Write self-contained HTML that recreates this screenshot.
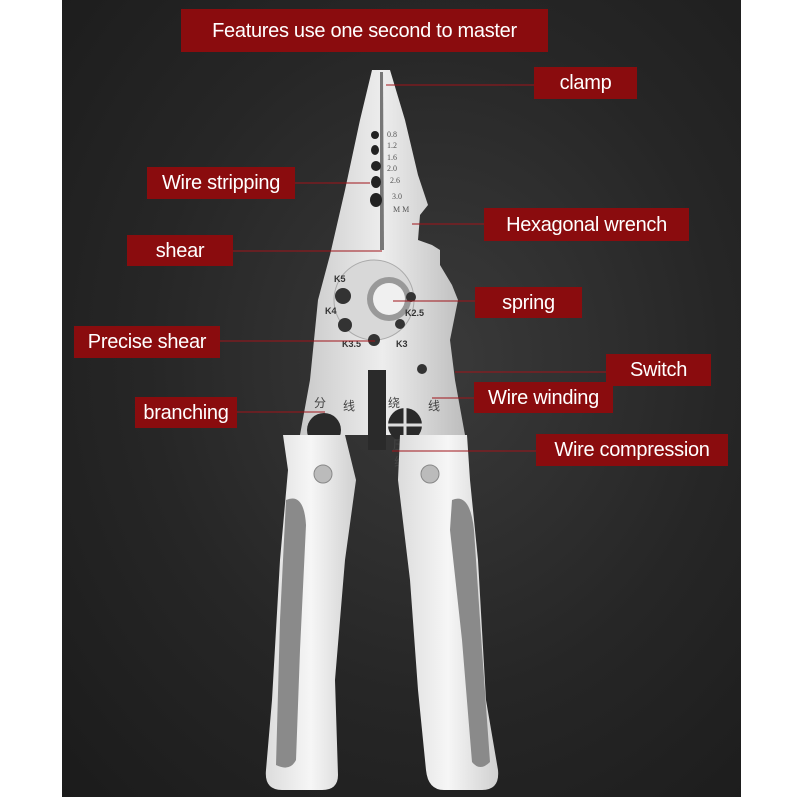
<!DOCTYPE html>
<html><head><meta charset="utf-8"><style>
body{margin:0;background:#fff;}
#c{position:relative;width:800px;height:800px;overflow:hidden;background:#fff;}
.bg{position:absolute;left:62px;top:0;width:679px;height:797px;background:radial-gradient(ellipse at 55% 45%,#3a3a3a 0%,#262626 55%,#1b1b1b 100%);}
.l{position:absolute;background:#8a0c0e;color:#fff;font-family:"Liberation Sans",sans-serif;font-size:20px;line-height:1;display:flex;align-items:center;justify-content:center;white-space:nowrap;letter-spacing:-0.3px;}
svg{position:absolute;left:0;top:0;}
</style></head><body><div id="c">
<div class="bg"></div>
<svg width="800" height="800" viewBox="0 0 800 800">
<defs>
<linearGradient id="m" x1="0" x2="1"><stop offset="0" stop-color="#c9c9c9"/><stop offset=".5" stop-color="#ededed"/><stop offset="1" stop-color="#bdbdbd"/></linearGradient>
<linearGradient id="h" x1="0" x2="1"><stop offset="0" stop-color="#dcdcdc"/><stop offset=".5" stop-color="#f6f6f6"/><stop offset="1" stop-color="#d0d0d0"/></linearGradient>
</defs>
<path d="M372 70 L390 70 L405 120 L418 175 L428 205 L420 215 L418 240 L432 245 L440 250 L440 265 L452 285 L458 300 L450 340 L455 380 L465 435 L300 435 L310 380 L318 300 L330 255 L345 190 L360 120 Z" fill="url(#m)"/>
<path d="M380 72 L383 72 L384 250 L380 250 Z" fill="#777"/>
<g fill="#222"><ellipse cx="375" cy="135" rx="4" ry="4"/><ellipse cx="375" cy="150" rx="4" ry="5"/><ellipse cx="376" cy="166" rx="5" ry="5"/><ellipse cx="376" cy="182" rx="5" ry="6"/><ellipse cx="376" cy="200" rx="6" ry="7"/></g>
<g font-family="Liberation Serif,serif" font-size="8" fill="#555"><text x="387" y="137">0.8</text><text x="387" y="148">1.2</text><text x="387" y="160">1.6</text><text x="387" y="171">2.0</text><text x="390" y="183">2.6</text><text x="392" y="199">3.0</text><text x="393" y="212">M M</text></g>
<circle cx="374" cy="300" r="40" fill="#d8d8d8" stroke="#aaa"/>
<circle cx="389" cy="299" r="22" fill="#999"/><circle cx="389" cy="299" r="16" fill="#f0f0f0"/>
<g fill="#333"><circle cx="343" cy="296" r="8"/><circle cx="345" cy="325" r="7"/><circle cx="374" cy="340" r="6"/><circle cx="400" cy="324" r="5"/><circle cx="411" cy="297" r="5"/><circle cx="422" cy="369" r="5"/></g>
<g font-family="Liberation Sans,sans-serif" font-size="9" fill="#333" font-weight="bold"><text x="334" y="282">K5</text><text x="325" y="314">K4</text><text x="405" y="316">K2.5</text><text x="396" y="347">K3</text><text x="342" y="347">K3.5</text></g>
<circle cx="324" cy="430" r="17" fill="#2a2a2a"/><circle cx="405" cy="425" r="17" fill="#2a2a2a"/>
<path d="M405 408 V442 M388 425 H422" stroke="#ddd" stroke-width="3"/>
<rect x="368" y="370" width="18" height="80" fill="#2a2a2a"/>
<g font-family="Noto Sans CJK SC,sans-serif" font-size="12" fill="#444"><text x="314" y="407">分</text><text x="343" y="410">线</text><text x="388" y="407">绕</text><text x="428" y="410">线</text><text x="393" y="449">压</text><text x="394" y="466">线</text></g>
<path d="M283 435 L345 435 L356 480 L345 560 L335 680 L338 775 Q338 790 322 790 L282 790 Q264 790 266 770 L272 700 L280 560 L288 470 Z" fill="url(#h)"/>
<path d="M400 435 L467 435 L470 480 L478 560 L486 700 L498 770 Q500 790 482 790 L444 790 Q428 790 426 770 L418 690 L410 580 L398 480 Z" fill="url(#h)"/>
<path d="M286 500 Q304 492 306 525 L300 650 L296 760 Q290 772 276 765 L280 620 Z" fill="#8a8a8a"/>
<path d="M452 500 Q470 492 474 530 L482 650 L490 762 Q480 772 472 762 L462 640 L450 530 Z" fill="#8a8a8a"/>
<circle cx="323" cy="474" r="9" fill="#bbb" stroke="#888"/><circle cx="430" cy="474" r="9" fill="#bbb" stroke="#888"/>
<g stroke="#a0141a" stroke-width="1" fill="none">
<path d="M386 85 H534"/><path d="M295 183 H370"/><path d="M412 224 H484"/><path d="M233 251 H382"/><path d="M393 301 H475"/><path d="M220 341 H375"/><path d="M455 372 H606"/><path d="M432 398 H474"/><path d="M237 412 H325"/><path d="M392 451 H536"/>
</g>
</svg>
<div class="l" style="left:181px;top:9px;width:367px;height:43px;">Features use one second to master</div>
<div class="l" style="left:534px;top:67px;width:103px;height:32px;">clamp</div>
<div class="l" style="left:147px;top:167px;width:148px;height:32px;">Wire stripping</div>
<div class="l" style="left:484px;top:208px;width:205px;height:33px;">Hexagonal wrench</div>
<div class="l" style="left:127px;top:235px;width:106px;height:31px;">shear</div>
<div class="l" style="left:475px;top:287px;width:107px;height:31px;">spring</div>
<div class="l" style="left:74px;top:326px;width:146px;height:32px;">Precise shear</div>
<div class="l" style="left:606px;top:354px;width:105px;height:32px;">Switch</div>
<div class="l" style="left:474px;top:382px;width:139px;height:31px;">Wire winding</div>
<div class="l" style="left:135px;top:397px;width:102px;height:31px;">branching</div>
<div class="l" style="left:536px;top:434px;width:192px;height:32px;">Wire compression</div>
</div></body></html>
